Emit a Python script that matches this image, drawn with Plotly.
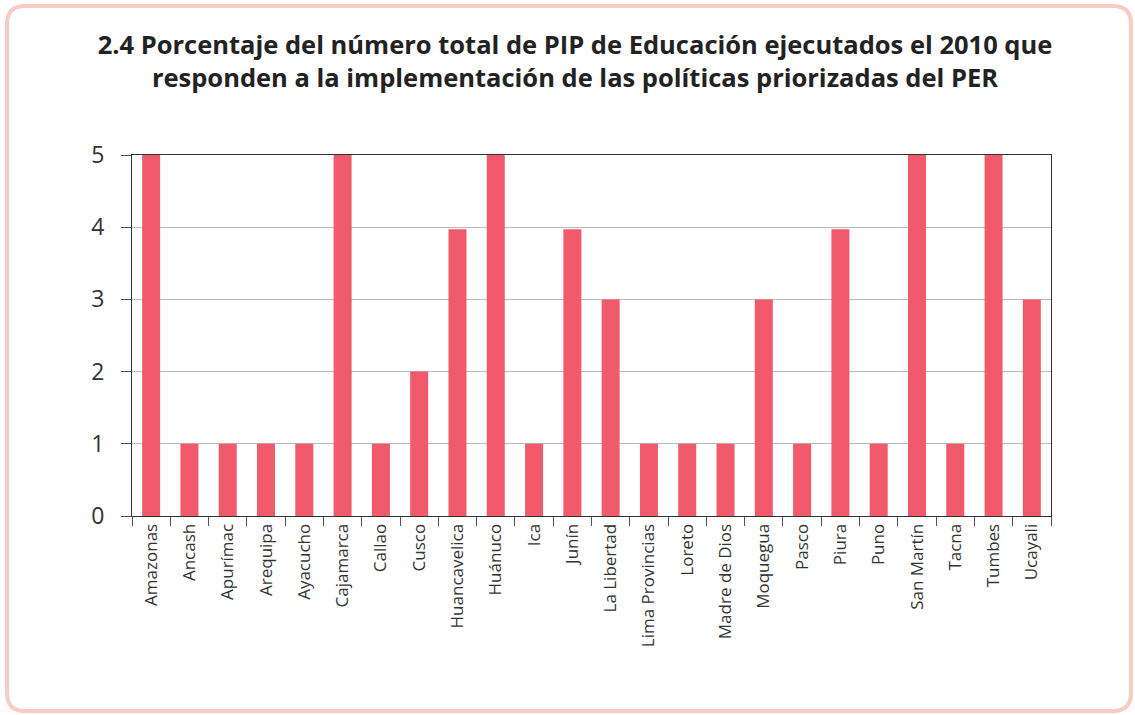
import plotly.graph_objects as go

regiones = ["Amazonas", "Ancash", "Apurímac", "Arequipa", "Ayacucho", "Cajamarca", "Callao",
            "Cusco", "Huancavelica", "Huánuco", "Ica", "Junín", "La Libertad", "Lima Provincias",
            "Loreto", "Madre de Dios", "Moquegua", "Pasco", "Piura", "Puno", "San Martín",
            "Tacna", "Tumbes", "Ucayali"]
valores = [5, 1, 1, 1, 1, 5, 1, 2, 3.97, 5, 1, 3.97, 3, 1, 1, 1, 3, 1, 3.97, 1, 5, 1, 5, 3]
y_ticks = [0, 1, 2, 3, 4, 5]

W, H = 1135, 715
L, R, T, B = 132, 1051, 155, 516

def px(x):
    return (x - L) / (R - L)

def py(y):
    return (B - y) / (B - T)

# rounded border path in paper coords
x0, y0, x1, y1, r = 7, 6, 1131, 711, 18
path = (f"M {px(x0+r)},{py(y0)} L {px(x1-r)},{py(y0)} Q {px(x1)},{py(y0)} {px(x1)},{py(y0+r)} "
        f"L {px(x1)},{py(y1-r)} Q {px(x1)},{py(y1)} {px(x1-r)},{py(y1)} "
        f"L {px(x0+r)},{py(y1)} Q {px(x0)},{py(y1)} {px(x0)},{py(y1-r)} "
        f"L {px(x0)},{py(y0+r)} Q {px(x0)},{py(y0)} {px(x0+r)},{py(y0)} Z")

fig = go.Figure(go.Bar(x=regiones, y=valores, marker_color="#F05A6A", marker_line_width=0))

fig.update_layout(
    width=W, height=H,
    margin=dict(l=L, r=W - R, t=T, b=H - B),
    paper_bgcolor="white", plot_bgcolor="white",
    bargap=0.53,
    showlegend=False,
    font=dict(family="Open Sans", color="#333333"),
    title=dict(
        text="<b>2.4 Porcentaje del número total de PIP de Educación ejecutados el 2010 que<br>responden a la implementación de las políticas priorizadas del PER</b>",
        x=575 / W, xref="container", xanchor="center",
        y=1 - 54 / H, yref="container", yanchor="middle",
        font=dict(size=25.5, color="#222222", family="Open Sans"),
    ),
    shapes=[dict(type="path", path=path, xref="paper", yref="paper",
                 line=dict(color="#F8CBC5", width=4), fillcolor="rgba(0,0,0,0)", layer="below")],
)

fig.update_yaxes(
    range=[0, 5], tickvals=y_ticks, ticks="outside", ticklen=10, tickcolor="#555555",
    showgrid=True, gridcolor="#BBBBBB", gridwidth=1,
    showline=True, linecolor="#333333", linewidth=1, mirror=True,
    tickfont=dict(size=23, color="#333333"), ticklabelstandoff=12, zeroline=False,
)
fig.update_xaxes(
    tickangle=-90, ticks="outside", ticklen=9, tickcolor="#555555", tickson="boundaries",
    showline=True, linecolor="#333333", linewidth=1, mirror=True,
    tickfont=dict(size=17, color="#333333"),
)

fig.write_html("out.html", config={"displayModeBar": False},
               post_script="document.body.style.margin='0';document.body.style.overflow='hidden';")
